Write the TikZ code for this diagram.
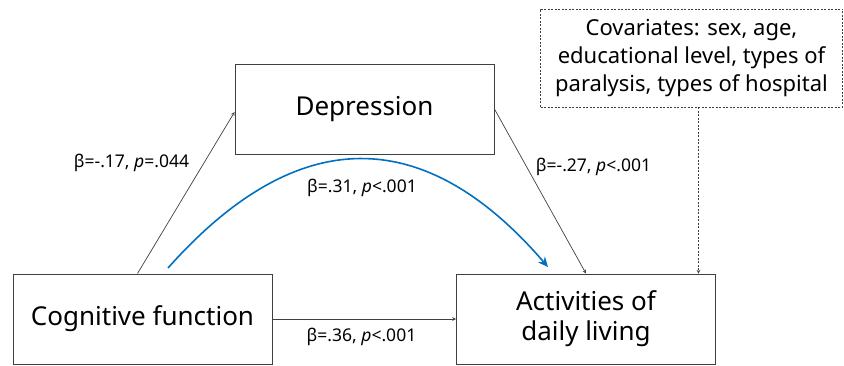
\documentclass[tikz,border=0pt]{standalone}
\usepackage{fontspec}
\setmainfont{Noto Sans}
\usepackage{tikz}
\usetikzlibrary{shapes.geometric, arrows, arrows.meta}

\definecolor{lineGray}{RGB}{64,64,64}
\definecolor{pathBlue}{RGB}{0,112,192}

\begin{document}
\begin{tikzpicture}[x=1pt, y=1pt]
	\tikzstyle{box} = [rectangle, minimum width=259pt, minimum height=90pt, inner sep=0pt, align=center, draw=lineGray, line width=0.9pt, font=\fontsize{26}{30}\selectfont]
	\tikzstyle{covbox} = [rectangle, minimum width=302pt, minimum height=98pt, inner sep=0pt, align=center, draw=lineGray, dashed, dash pattern=on 2pt off 1.5pt, line width=0.7pt, font=\fontsize{22}{28}\selectfont]
	\tikzstyle{coef} = [inner sep=0pt, font=\fontsize{17.5}{20}\selectfont]
	\tikzstyle{arrow} = [lineGray, line width=0.7pt, ->, >=stealth]
	\tikzstyle{dasharrow} = [lineGray, line width=0.7pt, dashed, dash pattern=on 2pt off 1.5pt, ->, >=stealth]
	\tikzstyle{curvearrow} = [pathBlue, line width=1.6pt, -{Stealth[length=10pt, width=9pt]}]
	\useasboundingbox (0,0) rectangle (844,366);
	\node (cognitive) [box] at (142.5,47) {Cognitive function};
	\node (depression) [box] at (364.5,257) {Depression};
	\node (adl) [box] at (586,47) {Activities of\\daily living};
	\node (covariates) [covbox] at (691.5,308) {Covariates: sex, age,\\educational level, types of\\paralysis, types of hospital};
	\node (coefA) [coef] at (131.5,203) {β=-.17, \textit{p}=.044};
	\node (coefB) [coef] at (593.5,199) {β=-.27, \textit{p}<.001};
	\node (coefC) [coef] at (362,178) {β=.31, \textit{p}<.001};
	\node (coefCprime) [coef] at (361.5,29) {β=.36, \textit{p}<.001};
	\coordinate (curveStart) at (168,98);
	\coordinate (curveEnd) at (548,99);
	\draw [arrow] ([xshift=-5pt]cognitive.north) -- ([yshift=-3pt]depression.west);
	\draw [arrow] (depression.east) -- (adl.north);
	\draw [arrow] (cognitive.east) -- (adl.west);
	\draw [dasharrow] ([xshift=7pt]covariates.south) -- ([xshift=7pt]covariates.south |- adl.north);
	\draw [curvearrow] (curveStart) .. controls (297,243) and (424,243) .. (curveEnd);
\end{tikzpicture}
\end{document}
